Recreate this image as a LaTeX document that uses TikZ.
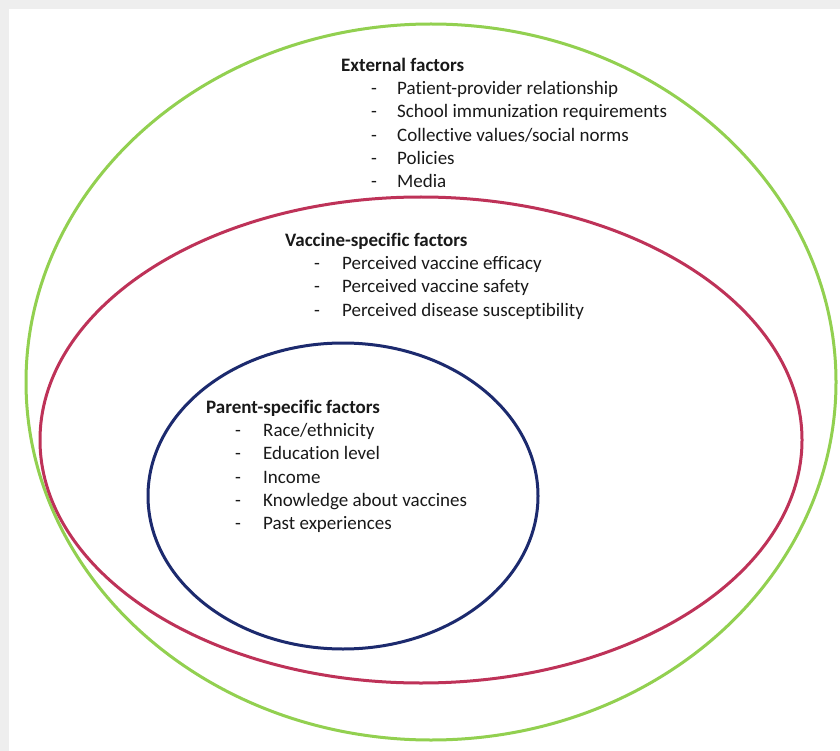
\documentclass[tikz,border=0pt]{standalone}
\usepackage{fontspec}
\setmainfont[Ligatures=NoCommon]{Carlito}
\usepackage{array}
\definecolor{extgreen}{RGB}{146,208,80}
\definecolor{vacred}{RGB}{190,50,88}
\definecolor{parblue}{RGB}{28,42,110}
\definecolor{txtgray}{RGB}{25,25,25}
\definecolor{framegray}{RGB}{238,238,238}
\begin{document}
\begin{tikzpicture}[x=1pt,y=-1pt,
  ring/.style={line width=3pt},
  block/.style={anchor=north west, inner sep=0pt, text=txtgray,
    font=\fontsize{19}{23.2}\selectfont}]
\useasboundingbox (0,0) rectangle (840,751);
\fill[framegray] (0,0) rectangle (840,751);
\fill[white] (9,9) rectangle (840,751);
\draw[ring, extgreen] (431,382) ellipse [x radius=405, y radius=358];
\draw[ring, vacred] (421,440) ellipse [x radius=381, y radius=243];
\draw[ring, parblue] (343,496) ellipse [x radius=195, y radius=153];
\node[block] (ext) at (341,55) {\begin{tabular}{@{}p{30pt}@{}p{26pt}@{}l@{}}
\multicolumn{3}{@{}l@{}}{\textbf{External factors}}\\
& - & Patient-provider relationship\\
& - & School immunization requirements\\
& - & Collective values/social norms\\
& - & Policies\\
& - & Media
\end{tabular}};
\node[block] (vac) at (285,230) {\begin{tabular}{@{}p{29pt}@{}p{28pt}@{}l@{}}
\multicolumn{3}{@{}l@{}}{\textbf{Vaccine-specific factors}}\\
& - & Perceived vaccine efficacy\\
& - & Perceived vaccine safety\\
& - & Perceived disease susceptibility
\end{tabular}};
\node[block] (par) at (206,397) {\begin{tabular}{@{}p{29pt}@{}p{28pt}@{}l@{}}
\multicolumn{3}{@{}l@{}}{\textbf{Parent-specific factors}}\\
& - & Race/ethnicity\\
& - & Education level\\
& - & Income\\
& - & Knowledge about vaccines\\
& - & Past experiences
\end{tabular}};
\end{tikzpicture}
\end{document}
